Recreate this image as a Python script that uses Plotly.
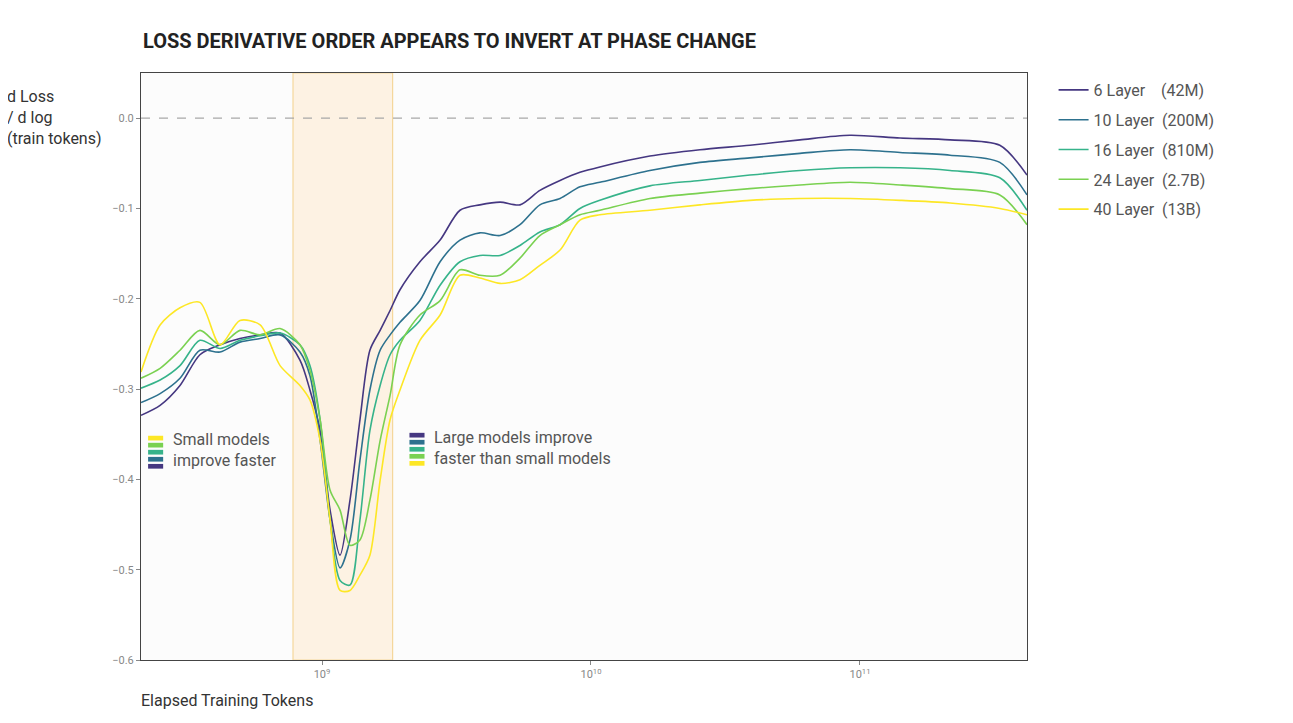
import plotly.graph_objects as go

# log10 of elapsed training tokens
log_tokens = [8.327, 8.398, 8.472, 8.546, 8.621, 8.695, 8.770, 8.844, 8.918, 8.955,
              8.993, 9.030, 9.067, 9.104, 9.141, 9.178, 9.216, 9.253, 9.290, 9.364,
              9.439, 9.513, 9.587, 9.662, 9.736, 9.810, 9.885, 9.959, 10.033, 10.219,
              10.405, 10.591, 10.777, 10.963, 11.149, 11.335, 11.520, 11.621]

layer6 = [-.329, -.318, -.296, -.262, -.251, -.244, -.240, -.238, -.268, -.301,
          -.346, -.434, -.484, -.423, -.334, -.257, -.235, -.213, -.190, -.159,
          -.135, -.102, -.096, -.093, -.096, -.080, -.069, -.060, -.054, -.042,
          -.035, -.030, -.024, -.019, -.022, -.024, -.030, -.063]
layer10 = [-.315, -.305, -.288, -.257, -.259, -.248, -.244, -.240, -.259, -.285,
           -.357, -.445, -.498, -.467, -.379, -.301, -.257, -.240, -.226, -.202,
           -.159, -.135, -.127, -.130, -.118, -.096, -.089, -.076, -.071, -.058,
           -.049, -.044, -.039, -.035, -.038, -.041, -.049, -.085]
layer16 = [-.299, -.290, -.274, -.246, -.255, -.246, -.241, -.238, -.251, -.274,
           -.334, -.445, -.512, -.517, -.445, -.346, -.296, -.262, -.246, -.224,
           -.185, -.159, -.152, -.152, -.141, -.126, -.118, -.100, -.091, -.075,
           -.069, -.063, -.058, -.055, -.055, -.058, -.066, -.102]
layer24 = [-.288, -.277, -.257, -.235, -.251, -.235, -.240, -.233, -.251, -.279,
           -.334, -.412, -.434, -.473, -.467, -.423, -.357, -.307, -.251, -.218,
           -.202, -.168, -.174, -.174, -.155, -.130, -.118, -.107, -.102, -.089,
           -.083, -.078, -.074, -.071, -.074, -.078, -.085, -.118]
layer40 = [-.281, -.229, -.210, -.204, -.251, -.224, -.229, -.274, -.296, -.312,
           -.357, -.445, -.523, -.523, -.506, -.484, -.401, -.334, -.301, -.246,
           -.218, -.174, -.177, -.183, -.179, -.163, -.146, -.113, -.107, -.102,
           -.096, -.091, -.089, -.089, -.091, -.094, -.100, -.107]

names = ["6 Layer    (42M)", "10 Layer  (200M)", "16 Layer  (810M)",
         "24 Layer  (2.7B)", "40 Layer  (13B)"]
colors = ["#453781", "#2d718e", "#36b38a", "#7ad151", "#fde725"]
series = [layer6, layer10, layer16, layer24, layer40]

phase_start, phase_end = 7.8e8, 1.83e9

tokens = [10 ** v for v in log_tokens]

fig = go.Figure()
for i, (name, col, ys) in enumerate(zip(names, colors, series)):
    fig.add_trace(go.Scatter(x=tokens, y=ys, mode="lines", name=name, legendgroup=str(i),
                             line=dict(color=col, width=1.6, shape="spline", smoothing=0.8)))

fig.add_vrect(x0=phase_start, x1=phase_end, fillcolor="#fdf2e3", opacity=1,
              line=dict(color="#f5d79c", width=1.2), layer="below")
fig.add_hline(y=0, line=dict(color="#a8a8a8", width=1.3, dash="dash"))

# little colour keys next to the notes
def key_bars(x0, ys, cols):
    for y, c in zip(ys, cols):
        fig.add_shape(type="rect", xref="paper", yref="paper",
                      x0=x0, x1=x0 + 0.017, y0=y - 0.004, y1=y + 0.004,
                      fillcolor=c, line=dict(width=0))

key_bars(0.008, [0.378, 0.366, 0.354, 0.342, 0.330], colors[::-1])
key_bars(0.303, [0.383, 0.371, 0.359, 0.347, 0.335], colors)

note_font = dict(family="Roboto", size=16, color="#555555")
fig.add_annotation(xref="paper", yref="paper", x=0.034, y=0.357, xanchor="left", yanchor="middle",
                   text="Small models<br>improve faster", showarrow=False, align="left", font=note_font)
fig.add_annotation(xref="paper", yref="paper", x=0.329, y=0.362, xanchor="left", yanchor="middle",
                   text="Large models improve<br>faster than small models", showarrow=False,
                   align="left", font=note_font)
fig.add_annotation(xref="paper", yref="paper", x=-0.153, y=0.98, xanchor="left", yanchor="top",
                   text="d Loss<br>/ d log<br>(train tokens)", showarrow=False, align="left",
                   font=dict(family="Roboto", size=16, color="#333333"))
fig.add_annotation(xref="paper", yref="paper", x=-0.002, y=-0.05, xanchor="left", yanchor="top",
                   text="Elapsed Training Tokens", showarrow=False,
                   font=dict(family="Roboto", size=16, color="#333333"))

fig.update_layout(
    width=1293, height=723,
    title=dict(text="<b>LOSS DERIVATIVE ORDER APPEARS TO INVERT AT PHASE CHANGE</b>",
               x=135 / 1293, xanchor="left", y=0.955, yanchor="middle",
               font=dict(family="Roboto", size=20, color="#222222")),
    margin=dict(l=133, r=274, t=65, b=71),
    paper_bgcolor="white", plot_bgcolor="#fcfcfc",
    font=dict(family="Roboto"),
    legend=dict(x=1.03, y=1.0, xanchor="left", yanchor="top",
                font=dict(size=16, color="#555555"), tracegroupgap=6),
    showlegend=True,
)
fig.update_xaxes(type="log", range=[8.327, 11.621], showgrid=False,
                 tickvals=[1e9, 1e10, 1e11],
                 ticktext=["10<sup>9</sup>", "10<sup>10</sup>", "10<sup>11</sup>"],
                 ticks="outside", ticklen=4, tickcolor="#888",
                 tickfont=dict(size=11, color="#888888"),
                 showline=True, linecolor="#444", linewidth=1, mirror=True, zeroline=False)
fig.update_yaxes(range=[-0.6, 0.05], showgrid=False, dtick=0.1, tickformat=".1f",
                 ticks="outside", ticklen=4, tickcolor="#888",
                 tickfont=dict(size=11, color="#888888"),
                 showline=True, linecolor="#444", linewidth=1, mirror=True, zeroline=False)

fig.write_html("out.html")
